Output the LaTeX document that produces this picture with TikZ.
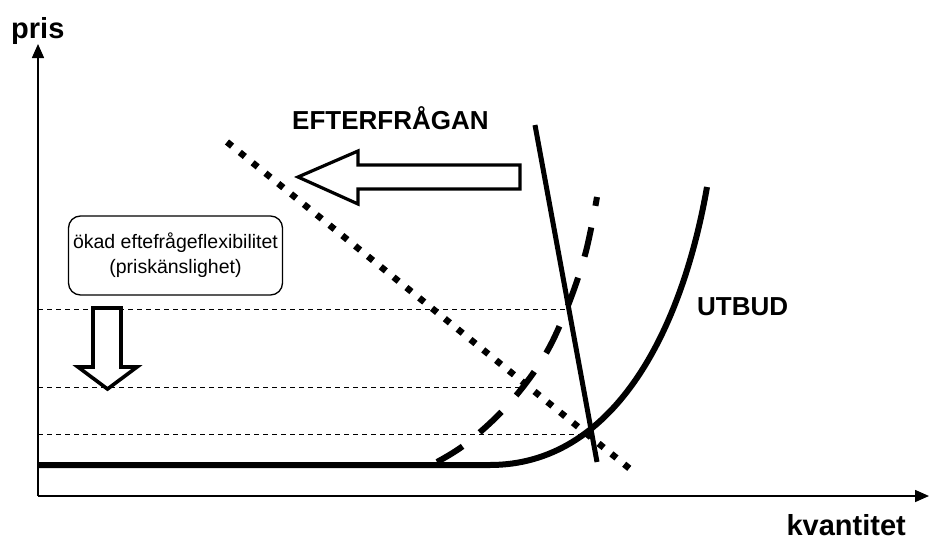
\documentclass[tikz,border=0pt]{standalone}
\usepackage{fontspec}
\setmainfont{Liberation Sans}
\usetikzlibrary{arrows.meta}
\begin{document}
\begin{tikzpicture}[x=1pt,y=-1pt,
  axis/.style={line width=1.6pt,-{Triangle[length=14pt,width=12pt]}},
  thick curve/.style={line width=6pt},
  guide/.style={line width=1pt,dash pattern=on 5pt off 4pt},
  hollow/.style={line width=3.2pt,fill=white,line join=miter},
  biglabel/.style={font=\fontsize{29}{29}\selectfont\bfseries,inner sep=0pt},
  curvelabel/.style={font=\fontsize{26}{26}\selectfont\bfseries,inner sep=0pt},
  infobox/.style={draw,rounded corners=12pt,line width=1.3pt,minimum width=214pt,minimum height=79pt,align=center,font=\fontsize{19.5}{25}\selectfont,inner sep=0pt}]
\useasboundingbox (0,0) rectangle (930,541);
% axes
\coordinate (O) at (38,496);
\coordinate (ytop) at (38,44);
\coordinate (xend) at (929,496);
\draw[axis] (O) -- (ytop);
\draw[axis] (O) -- (xend);
\node[biglabel,anchor=base west] (pris) at (11,38) {pris};
\node[biglabel,anchor=base east] (kv) at (906,535) {kvantitet};
% key points
\coordinate (sA) at (38,465);
\coordinate (sB) at (490,465);
\coordinate (sC) at (707,187);
\coordinate (d1a) at (535,125);
\coordinate (d1b) at (597,462);
\coordinate (d2a) at (227,142);
\coordinate (d2b) at (635,473);
\coordinate (p1) at (569,309);
\coordinate (p2) at (524,387);
\coordinate (p3) at (590,434);
\coordinate (q1) at (38,309);
\coordinate (q2) at (38,387);
\coordinate (q3) at (38,434);
% guides
\draw[guide] (q1) -- (p1);
\draw[guide] (q2) -- (p2);
\draw[guide] (q3) -- (p3);
% supply
\draw[thick curve] (sA) -- (sB) .. controls (612,465) and (681,335) .. (sC);
% steep demand
\draw[line width=5pt] (d1a) -- (d1b);
% dashed curve
\draw[line width=6pt,dash pattern=on 30pt off 22pt] plot[smooth,tension=0.6] coordinates {(437,462) (467,443) (507,406) (542,360) (565,313) (585,255) (597,197)};
% dotted demand
\draw[line width=6.5pt,dash pattern=on 6.5pt off 10pt] (d2a) -- (d2b);
% labels
\node[curvelabel,anchor=base west] (eft) at (292,129) {EFTERFRÅGAN};
\node[curvelabel,anchor=base west] (utb) at (697,315) {UTBUD};
% hollow left arrow
\draw[hollow] (520,165) -- (358,165) -- (358,151) -- (298,177) -- (358,204) -- (358,189) -- (520,189) -- cycle;
% box
\node[infobox] (box) at (175.5,255.5) {ökad eftefrågeflexibilitet\\(priskänslighet)};
% down arrow
\draw[hollow,line width=3.6pt] (93,308) -- (121,308) -- (121,367) -- (137,367) -- (107.5,389) -- (78,367) -- (93,367) -- cycle;
\end{tikzpicture}
\end{document}
